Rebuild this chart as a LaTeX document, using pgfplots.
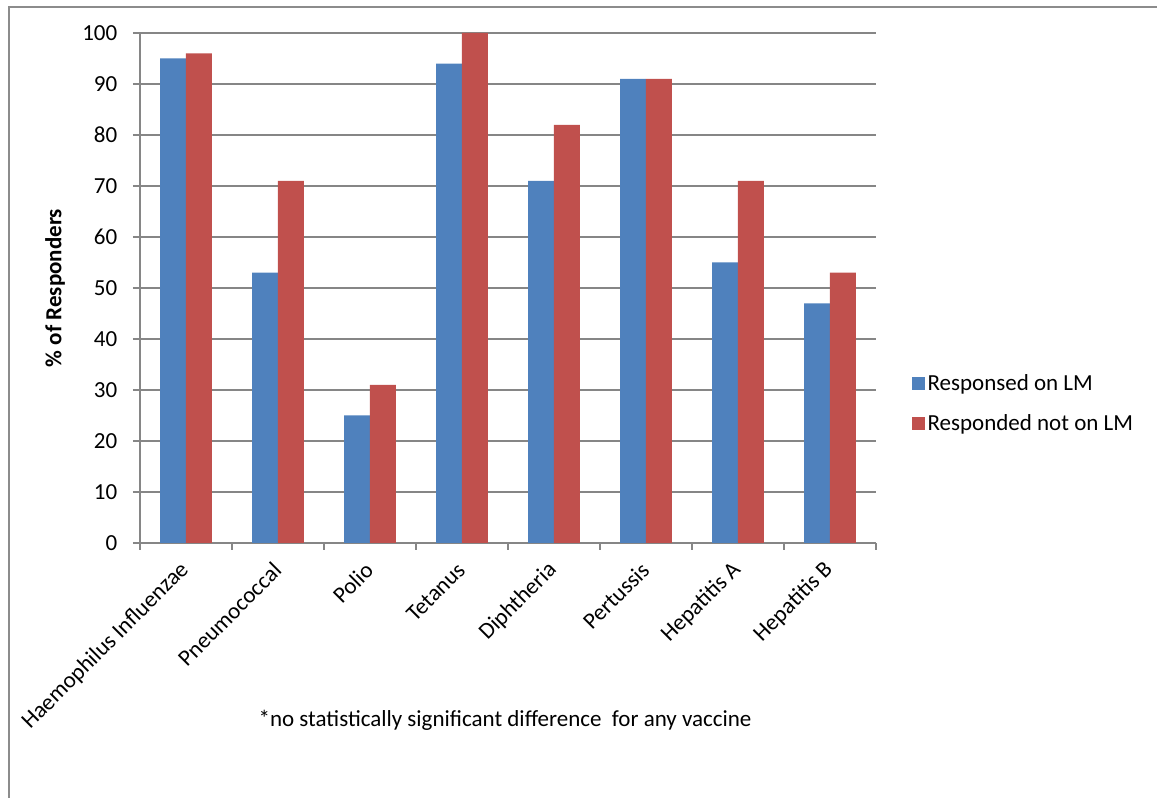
\documentclass[border=0pt]{standalone}
\usepackage{pgfplots}
\pgfplotsset{compat=1.18}
\usepackage{fontspec}
\setmainfont{Carlito}
\definecolor{xblue}{HTML}{4F81BD}
\definecolor{xred}{HTML}{C0504D}
\definecolor{xgrid}{HTML}{868686}
\definecolor{xframe}{HTML}{8C8C8C}
\newcommand{\chartfont}{\fontsize{17.25}{20}\selectfont}
\begin{document}
\begin{tikzpicture}
\useasboundingbox (-105pt,-191.25pt) rectangle (762.75pt,407.25pt);
\draw[xframe,line width=1.5pt] (-98.25pt,-195pt) -- (-98.25pt,402pt) -- (770pt,402pt);
\begin{axis}[
  at={(0,0)}, anchor=south west,
  scale only axis, width=552pt, height=382.5pt,
  font=\chartfont,
  /pgf/number format/assume math mode=true,
  ybar=0pt, bar width=0.28,
  xmin=-0.5, xmax=7.5, ymin=0, ymax=100,
  xtick={-0.5,0.5,...,7.5},
  x tick label as interval,
  xticklabels={Haemophilus Influenzae,Pneumococcal,Polio,Tetanus,Diphtheria,Pertussis,Hepatitis A,Hepatitis B},
  xticklabel style={rotate=45, anchor=east, xshift=-5.67pt, yshift=-8.37pt},
  ytick={0,10,...,100},
  yticklabel style={xshift=-8.25pt},
  tick align=outside, major tick length=5.25pt,
  axis x line*=bottom, axis y line*=left,
  axis line style={draw=xgrid, line width=0.8pt},
  tick style={draw=xgrid, line width=0.8pt},
  ymajorgrids, grid style={draw=xgrid, line width=0.8pt},
  ylabel={\bfseries \% of Responders},
  ylabel style={at={(axis description cs:-0.1155,0.5)}, anchor=center, rotate=0},
  legend style={at={(axis description cs:1.043,0.2735)}, anchor=west, draw=none, fill=none,
    row sep=13pt, nodes={inner sep=2pt}, font=\chartfont},
  legend cell align=left,
  legend image code/.code={\fill[#1] (0pt,-4.9pt) rectangle (9.75pt,4.9pt);},
  clip=false,
]
\addplot[fill=xblue, draw=none] coordinates {(0,95) (1,53) (2,25) (3,94) (4,71) (5,91) (6,55) (7,47)};
\addplot[fill=xred, draw=none] coordinates {(0,96) (1,71) (2,31) (3,100) (4,82) (5,91) (6,71) (7,53)};
\legend{Responsed on LM, Responded not on LM}
\node[font=\chartfont] at (axis description cs:0.496,-0.347) {*no statistically significant difference\ \ for any vaccine};
\end{axis}
\end{tikzpicture}
\end{document}
